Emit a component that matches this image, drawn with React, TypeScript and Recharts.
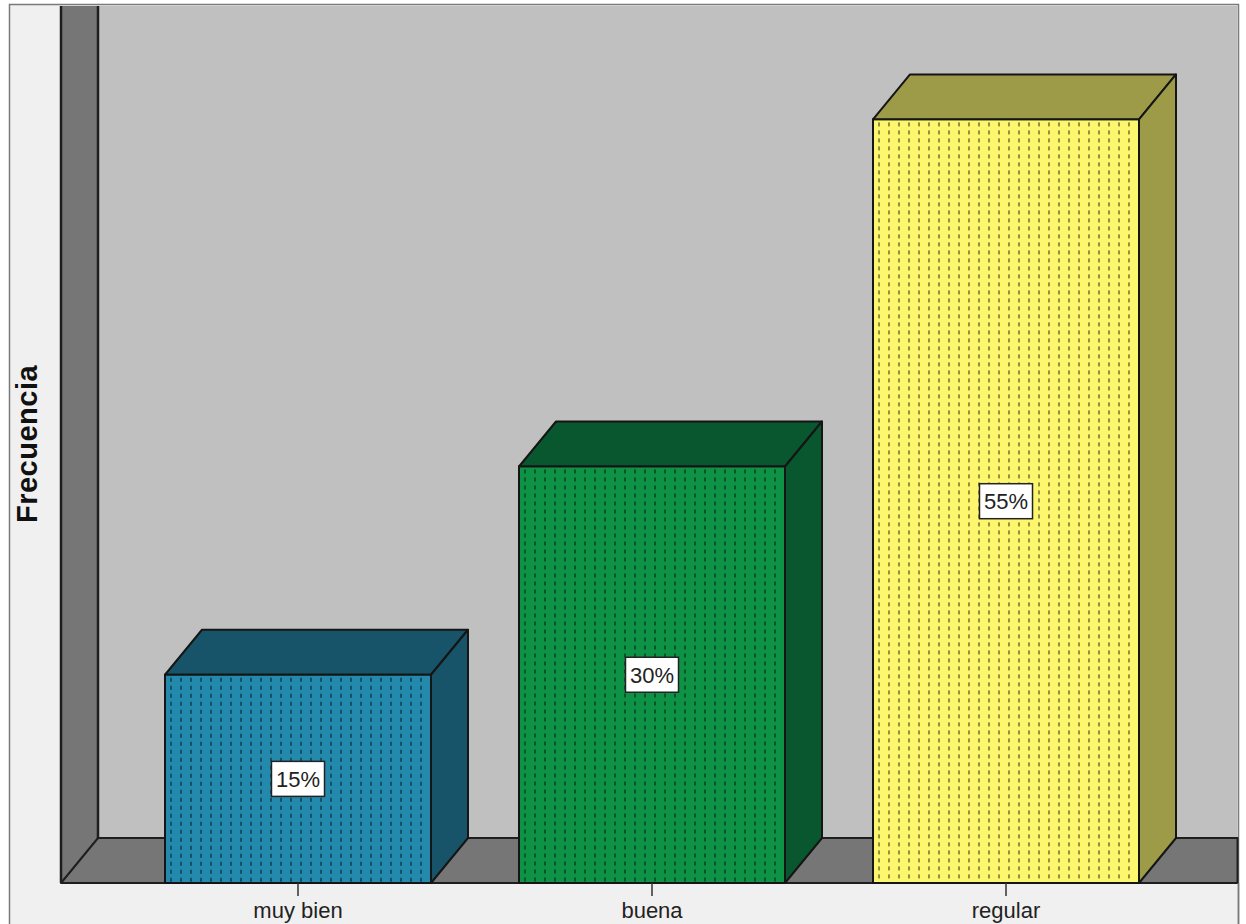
import { Bar, BarChart, Customized, LabelList, XAxis, YAxis } from "recharts";

// data
const categories = ["muy bien", "buena", "regular"];
const percentages = [15, 30, 55];
const yMax = 60;

const data = categories.map((name, i) => ({ name, value: percentages[i] }));

// layout
const W = 1246;
const H = 924;
const PLOT_LEFT = 61;
const PLOT_TOP = 50;
const PLOT_RIGHT = 1201;
const PLOT_BOTTOM = 883;
const DX = 37; // depth offset
const DY = 45;
const FRAME_L = 9.5;
const FRAME_T = 4.5;
const FRAME_R = 1238.5;
const FONT = "'Liberation Sans', Arial, sans-serif";

const frontColors = ["#2389ad", "#0e9245", "#fdf76d"];
const sideColors = ["#175469", "#08572f", "#9d9a48"];

function Walls() {
  const backTop = PLOT_TOP - DY;
  const backBottom = PLOT_BOTTOM - DY;
  const line = "#1e1e1e";
  return (
    <g>
      <rect x={FRAME_L} y={FRAME_T} width={FRAME_R - FRAME_L} height={H} fill="#f0f0f0" stroke="#7a7a7a" strokeWidth={1.5} />
      <rect
        x={PLOT_LEFT + DX}
        y={backTop + 1}
        width={FRAME_R - 1 - PLOT_LEFT - DX}
        height={backBottom - backTop - 1}
        fill="#c0c0c0"
      />
      <polygon
        points={`${PLOT_LEFT},${backTop + 1} ${PLOT_LEFT + DX},${backTop + 1} ${PLOT_LEFT + DX},${backBottom} ${PLOT_LEFT},${PLOT_BOTTOM}`}
        fill="#767676"
      />
      <polygon
        points={`${PLOT_LEFT},${PLOT_BOTTOM} ${PLOT_LEFT + DX},${backBottom} ${FRAME_R - 1},${backBottom} ${FRAME_R - 1},${PLOT_BOTTOM}`}
        fill="#767676"
        stroke={line}
        strokeWidth={2}
        strokeLinejoin="round"
      />
      <line x1={PLOT_LEFT} y1={backTop + 1} x2={PLOT_LEFT} y2={PLOT_BOTTOM} stroke={line} strokeWidth={2.5} />
      <line x1={PLOT_LEFT + DX} y1={backTop + 1} x2={PLOT_LEFT + DX} y2={backBottom} stroke={line} strokeWidth={2.5} />
      <line x1={FRAME_R} y1={PLOT_BOTTOM} x2={FRAME_R} y2={H} stroke="#7a7a7a" strokeWidth={1.5} />
    </g>
  );
}

function Box3D(props: any) {
  const { x, y, width, height } = props;
  let i = typeof props.index === "number" ? props.index : categories.indexOf(props.payload?.name);
  if (i < 0) i = 0;
  const front = frontColors[i];
  const side = sideColors[i];
  const pid = `dots-${i}`;
  const stroke = "#151515";
  return (
    <g>
      <defs>
        <pattern id={pid} patternUnits="userSpaceOnUse" width={10} height={8} x={x + 3} y={y + 2}>
          <rect width={10} height={8} fill={front} />
          <rect x={2} y={1} width={2} height={4} fill="rgba(0,0,0,0.42)" />
        </pattern>
      </defs>
      <polygon
        points={`${x},${y} ${x + DX},${y - DY} ${x + width + DX},${y - DY} ${x + width},${y}`}
        fill={side}
        stroke={stroke}
        strokeWidth={2}
        strokeLinejoin="round"
      />
      <polygon
        points={`${x + width},${y} ${x + width + DX},${y - DY} ${x + width + DX},${y + height - DY} ${x + width},${y + height}`}
        fill={side}
        stroke={stroke}
        strokeWidth={2}
        strokeLinejoin="round"
      />
      <rect x={x} y={y} width={width} height={height} fill={`url(#${pid})`} stroke={stroke} strokeWidth={2} />
    </g>
  );
}

function PctLabel(props: any) {
  const vb = props.viewBox || props;
  const x = vb.x ?? props.x;
  const y = vb.y ?? props.y;
  const width = vb.width ?? props.width;
  const height = vb.height ?? props.height;
  const text = `${props.value}%`;
  const digits = String(props.value).length;
  const tw = (digits * 0.556 + 0.889) * 22;
  const bw = tw + 9;
  const bh = 35;
  const cx = x + width / 2;
  const cy = y + height / 2;
  return (
    <g>
      <rect x={cx - bw / 2} y={cy - bh / 2} width={bw} height={bh} fill="#ffffff" stroke="#222" strokeWidth={1.5} />
      <text x={cx} y={cy + 8} textAnchor="middle" fontFamily={FONT} fontSize={22} fill="#222">
        {text}
      </text>
    </g>
  );
}

function YLabel(props: any) {
  const vb = props.viewBox || { x: 0, y: PLOT_TOP, width: PLOT_LEFT, height: PLOT_BOTTOM - PLOT_TOP };
  const cy = vb.y - DY / 2 + vb.height / 2;
  const cx = 37;
  return (
    <text
      x={cx}
      y={cy}
      transform={`rotate(-90, ${cx}, ${cy})`}
      textAnchor="middle"
      fontFamily={FONT}
      fontWeight="bold"
      fontSize={29}
      letterSpacing={0.5}
      fill="#111"
    >
      Frecuencia
    </text>
  );
}

export default function App() {
  return (
    <div style={{ position: "absolute", left: 0, top: 0, width: W, height: H, background: "#fff", overflow: "hidden" }}>
      <BarChart
        width={W}
        height={H}
        data={data}
        margin={{ top: PLOT_TOP, right: W - PLOT_RIGHT, bottom: 0, left: 0 }}
        barSize={266}
      >
        <Customized component={<Walls />} />
        <XAxis
          dataKey="name"
          height={H - PLOT_BOTTOM}
          padding={{ left: 60, right: 18 }}
          axisLine={false}
          tickSize={13}
          tickMargin={6}
          tickLine={{ stroke: "#333", strokeWidth: 1.5 }}
          tick={{ fill: "#222", fontSize: 22, fontFamily: FONT }}
          interval={0}
        />
        <YAxis
          width={PLOT_LEFT}
          domain={[0, yMax]}
          tick={false}
          tickLine={false}
          axisLine={false}
          label={{ value: "Frecuencia", content: (p: any) => <YLabel {...p} /> }}
        />
        <Bar dataKey="value" shape={(p: any) => <Box3D {...p} />} isAnimationActive={false}>
          <LabelList dataKey="value" content={(p: any) => <PctLabel {...p} />} />
        </Bar>
      </BarChart>
    </div>
  );
}
